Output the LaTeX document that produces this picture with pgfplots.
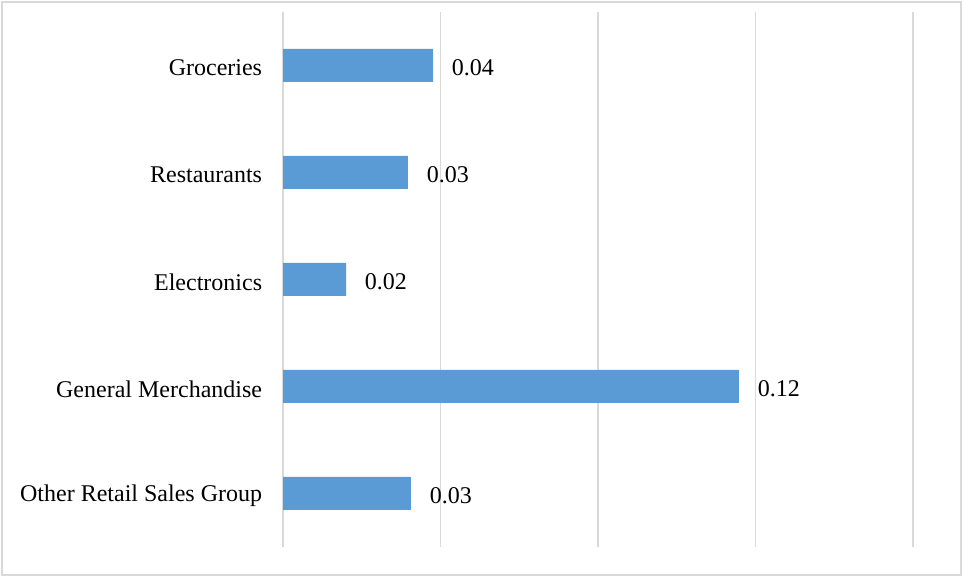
\documentclass[border=0pt]{standalone}
\usepackage{pgfplots}
\pgfplotsset{compat=1.18}
\usepackage{fontspec}
\setmainfont{Liberation Serif}
\definecolor{barblue}{HTML}{5B9BD5}
\definecolor{gridgray}{HTML}{D9D9D9}
\begin{document}
\begin{tikzpicture}[x=1pt,y=1pt]
\useasboundingbox (0,0) rectangle (722.25,432.75);
\draw[gridgray, line width=1.2pt] (1.5,1.5) rectangle (720.75,431.25);
\begin{axis}[
  at={(212.25pt,22.5pt)}, anchor=south west,
  scale only axis,
  width=472.5pt, height=401.25pt,
  xmin=0, xmax=0.16,
  ymin=-0.5, ymax=4.5,
  xtick={0,0.04,0.08,0.12,0.16},
  xticklabels={},
  xmajorgrids,
  major grid style={gridgray, line width=0.8pt},
  ytick={0,1,2,3,4},
  yticklabels={Other Retail Sales Group, General Merchandise, Electronics, Restaurants, Groceries},
  axis line style={draw=none},
  major tick length=0pt,
  tick style={draw=none},
  yticklabel style={font=\fontsize{18}{20}\selectfont, inner sep=0pt, xshift=-15.5pt, yshift=-1.8pt},
  xbar, bar width=24.75pt,
  /pgf/number format/assume math mode=true,
  point meta=x,
  nodes near coords={\pgfmathprintnumber[fixed,precision=2,fixed zerofill]{\pgfplotspointmeta}},
  nodes near coords style={font=\fontsize{18}{20}\selectfont, anchor=west, inner sep=0pt, xshift=14pt, yshift=-2pt},
  clip=false,
]
\addplot[fill=barblue, draw=none] coordinates {
  (0.0325,0)
  (0.1158,1)
  (0.016,2)
  (0.0317,3)
  (0.0381,4)
};
\end{axis}
\end{tikzpicture}
\end{document}
